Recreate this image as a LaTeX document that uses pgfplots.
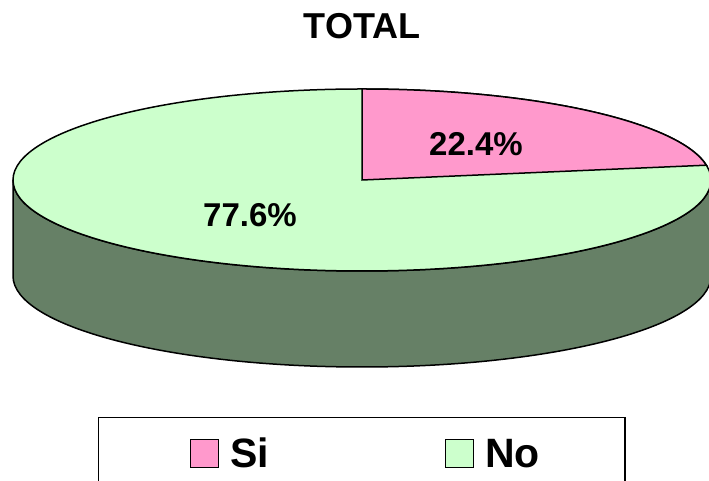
\documentclass[border=0pt]{standalone}
\usepackage{fontspec}
\setmainfont{Liberation Sans}
\usepackage{pgfplots}
\usepackage{pgfplotstable}
\pgfplotsset{compat=1.18}
\definecolor{sipink}{HTML}{FF99CC}
\definecolor{nogreen}{HTML}{CCFFCC}
\definecolor{sidegreen}{HTML}{668066}
\pgfplotstableread{
label value
Si 22.4
No 77.6
}\piedata
\begin{document}
\begin{tikzpicture}
\pgfplotstablegetelem{0}{value}\of\piedata
\let\vSi\pgfplotsretval
\pgfplotstablegetelem{1}{value}\of\piedata
\let\vNo\pgfplotsretval
\pgfmathsetmacro\aEnd{90-3.6*\vSi}
\def\cx{362}\def\cy{301}\def\rx{349}\def\ry{91}\def\dep{96}
\pgfplotsset{sqlegend/.style={legend image code/.code={\path (0pt,0pt); \draw[##1,draw=black,line width=1.2pt] (6pt,-14pt) rectangle (34pt,14pt);}}}
\begin{axis}[
  at={(0pt,0pt)}, anchor=south west,
  scale only axis, width=709pt, height=481pt,
  xmin=0, xmax=709, ymin=0, ymax=481,
  hide axis, clip=false,
  legend columns=2,
  legend style={at={(0.13822,0.13306)}, anchor=north west, draw=black, line width=1.5pt, fill=white,
    inner xsep=85pt, inner ysep=21pt,
    font=\fontsize{41}{41}\selectfont\bfseries,
    nodes={inner sep=0pt, text height=29pt, text depth=0pt},
    /tikz/every odd column/.append style={column sep=11pt},
    /tikz/every even column/.append style={column sep=170pt}},
]
% side (front wall)
\filldraw[fill=sidegreen, draw=black, line width=1.5pt]
  (axis cs:{\cx-\rx},\cy) -- (axis cs:{\cx-\rx},{\cy-\dep})
  arc[start angle=180, end angle=360, x radius=\rx pt, y radius=\ry pt]
  -- (axis cs:{\cx+\rx},\cy)
  arc[start angle=0, end angle=-180, x radius=\rx pt, y radius=\ry pt] -- cycle;
% top: No slice (whole ellipse), then Si slice
\filldraw[fill=nogreen, draw=black, line width=1.5pt]
  (axis cs:\cx,\cy) ellipse[x radius=\rx pt, y radius=\ry pt];
\filldraw[fill=sipink, draw=black, line width=1.5pt]
  (axis cs:\cx,\cy) -- (axis cs:\cx,{\cy+\ry})
  arc[start angle=90, end angle=\aEnd, x radius=\rx pt, y radius=\ry pt] -- cycle;
\node[anchor=base, inner sep=0pt, font=\fontsize{33}{33}\selectfont\bfseries] at (axis cs:476,325) {22.4\%};
\node[anchor=base, inner sep=0pt, font=\fontsize{33}{33}\selectfont\bfseries] at (axis cs:250,254) {77.6\%};
\node[anchor=base, inner sep=0pt, font=\fontsize{36}{36}\selectfont\bfseries] at (axis cs:362,442) {TOTAL};
\addlegendimage{sqlegend, fill=sipink}
\addlegendentry{Si}
\addlegendimage{sqlegend, fill=nogreen}
\addlegendentry{No}
\end{axis}
\pgfresetboundingbox
\useasboundingbox (0pt,0pt) rectangle (709pt,481pt);
\end{tikzpicture}
\end{document}
